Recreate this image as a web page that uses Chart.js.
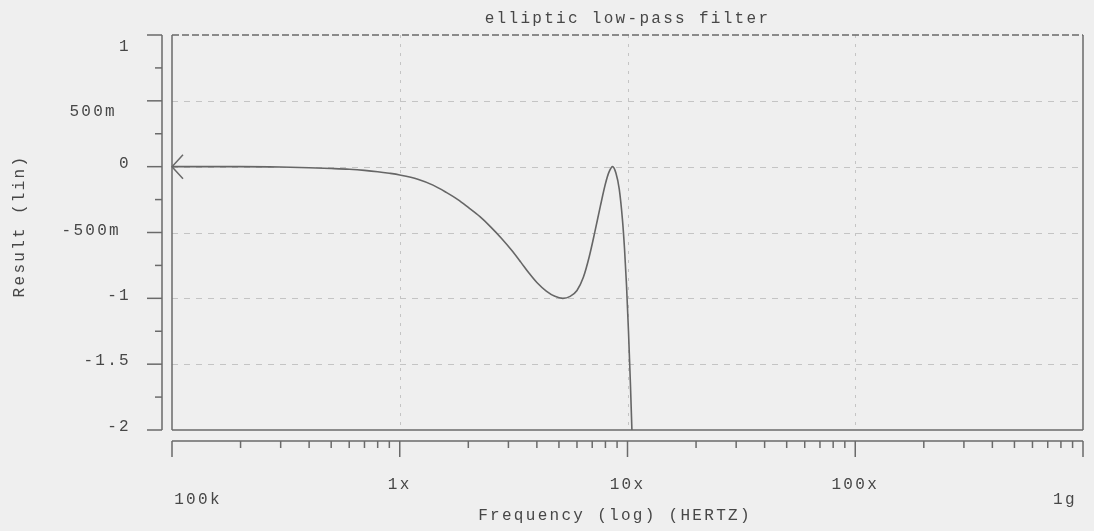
<!DOCTYPE html>
<html>
<head>
<meta charset="utf-8">
<script src="https://cdn.jsdelivr.net/npm/chart.js@4"></script>
<style>
    html, body { margin: 0; padding: 0; background: #efefef; }
    #wrap { width: 1094px; height: 531px; }
</style>
</head>
<body>
<div id="wrap"><canvas id="plot"></canvas></div>
<script>
// values
const freqHz = [1e5, 2e5, 3e5, 4e5, 5e5, 6e5, 7e5, 8e5, 9e5, 1.0e6, 1.2e6, 1.4e6, 1.6e6, 1.8e6, 2.0e6,
    2.25e6, 2.5e6, 2.8e6, 3.1e6, 3.4e6, 3.7e6, 4.0e6, 4.4e6, 4.8e6, 5.2e6, 5.6e6, 6.0e6, 6.4e6,
    6.8e6, 7.2e6, 7.6e6, 8.0e6, 8.3e6, 8.6e6, 8.9e6, 9.2e6, 9.5e6, 9.7e6, 9.9e6, 10.1e6, 10.3e6, 10.5e6];
const result = [0, 0, -0.003, -0.008, -0.014, -0.02, -0.028, -0.038, -0.05, -0.063, -0.095, -0.14,
    -0.195, -0.25, -0.31, -0.38, -0.455, -0.545, -0.635, -0.725, -0.81, -0.88, -0.945, -0.985, -1.0,
    -0.985, -0.94, -0.84, -0.68, -0.49, -0.3, -0.13, -0.04, 0, -0.05, -0.17, -0.4, -0.62, -0.9,
    -1.25, -1.65, -2.1];

const yTickValues = [1, 0.5, 0, -0.5, -1, -1.5, -2];
const yTickLabels = ["1", "500m", "0", "-500m", "-1", "-1.5", "-2"];
const xTickValues = [1e5, 1e6, 1e7, 1e8, 1e9];
const xTickLabels = ["100k", "1x", "10x", "100x", "1g"];

const TITLE = "elliptic low-pass filter";
const X_TITLE = "Frequency (log) (HERTZ)";
const Y_TITLE = "Result (lin)";

const INK = "#474747";
const FRAME = "#6a6a6a";
const GRID = "#c4c4c4";
const FONT = "16px 'Liberation Mono', monospace";

function setFont(ctx) {
    ctx.font = FONT;
    ctx.letterSpacing = "2.3px";
    ctx.fillStyle = INK;
}

function line(ctx, x1, y1, x2, y2) {
    ctx.beginPath();
    ctx.moveTo(x1, y1);
    ctx.lineTo(x2, y2);
    ctx.stroke();
}

const frame = {
    id: "frame",
    beforeDraw(chart) {
        const { ctx, width, height } = chart;
        ctx.save();
        ctx.fillStyle = "#efefef";
        ctx.fillRect(0, 0, width, height);
        ctx.restore();
    },
    beforeDatasetsDraw(chart) {
        const { ctx, chartArea: a, scales } = chart;
        const xs = scales.x, ys = scales.y;
        ctx.save();

        // grid
        ctx.strokeStyle = GRID;
        ctx.lineWidth = 1;
        ctx.setLineDash([6, 6]);
        yTickValues.slice(1, -1).forEach((v) => {
            const y = Math.round(ys.getPixelForValue(v)) + 0.5;
            line(ctx, a.left, y, a.right, y);
        });
        ctx.setLineDash([3, 6]);
        xTickValues.slice(1, -1).forEach((v) => {
            const x = Math.round(xs.getPixelForValue(v)) + 0.5;
            line(ctx, x, a.top, x, a.bottom);
        });

        // plot box: dashed top, solid others
        ctx.strokeStyle = FRAME;
        ctx.lineWidth = 1.5;
        ctx.setLineDash([7, 3]);
        line(ctx, a.left, a.top, a.right, a.top);
        ctx.setLineDash([]);
        line(ctx, a.left, a.top, a.left, a.bottom);
        line(ctx, a.left, a.bottom, a.right, a.bottom);
        line(ctx, a.right, a.top, a.right, a.bottom);

        // detached y axis
        const ax = a.left - 10;
        line(ctx, ax, a.top, ax, a.bottom);
        yTickValues.forEach((v, i) => {
            const y = ys.getPixelForValue(v);
            line(ctx, ax - 15, y, ax, y);
            if (i < yTickValues.length - 1) {
                const ym = ys.getPixelForValue((v + yTickValues[i + 1]) / 2);
                line(ctx, ax - 7, ym, ax, ym);
            }
        });

        // detached x axis
        const ay = a.bottom + 11;
        line(ctx, a.left, ay, a.right, ay);
        xTickValues.forEach((v, i) => {
            const x = xs.getPixelForValue(v);
            line(ctx, x, ay, x, ay + 16);
            if (i < xTickValues.length - 1) {
                for (let m = 2; m <= 9; m++) {
                    const xm = xs.getPixelForValue(v * m);
                    line(ctx, xm, ay, xm, ay + 7);
                }
            }
        });

        // labels
        setFont(ctx);
        ctx.textBaseline = "middle";
        ctx.textAlign = "right";
        const nudge = { "1": [0, 12], "500m": [-14, 11], "-500m": [-10, -2] };
        yTickValues.forEach((v, i) => {
            const [dx, dy] = nudge[yTickLabels[i]] || [0, -3];
            ctx.fillText(yTickLabels[i], 131 + dx, ys.getPixelForValue(v) + dy);
        });

        ctx.textAlign = "center";
        xTickValues.forEach((v, i) => {
            let x = xs.getPixelForValue(v);
            let y = 485;
            if (i === 0) { x += 26; y = 500; }
            if (i === xTickValues.length - 1) { x -= 18; y = 500; }
            ctx.fillText(xTickLabels[i], x, y);
        });

        ctx.fillText(TITLE, (a.left + a.right) / 2, 19);
        ctx.fillText(X_TITLE, 615, 516);

        ctx.translate(20, 226);
        ctx.rotate(-Math.PI / 2);
        ctx.fillText(Y_TITLE, 0, 0);
        ctx.restore();
    },
    afterDatasetsDraw(chart) {
        // "<" marker on the first sample
        const p = chart.getDatasetMeta(0).data[0];
        const { ctx } = chart;
        ctx.save();
        ctx.strokeStyle = FRAME;
        ctx.lineWidth = 1.5;
        ctx.beginPath();
        ctx.moveTo(p.x + 11, p.y - 12);
        ctx.lineTo(p.x, p.y);
        ctx.lineTo(p.x + 11, p.y + 12);
        ctx.stroke();
        ctx.restore();
    },
};

new Chart(document.getElementById("plot"), {
    type: "line",
    data: {
        datasets: [
            {
                data: freqHz.map((f, i) => ({ x: f, y: result[i] })),
                borderColor: "#666",
                borderWidth: 1.6,
                pointRadius: 0,
                cubicInterpolationMode: "monotone",
                fill: false,
            },
        ],
    },
    options: {
        responsive: true,
        maintainAspectRatio: false,
        animation: false,
        layout: { padding: { left: 172, right: 11, top: 35, bottom: 101 } },
        plugins: { legend: { display: false }, tooltip: { enabled: false } },
        scales: {
            x: { type: "logarithmic", min: 1e5, max: 1e9, display: false },
            y: { type: "linear", min: -2, max: 1, display: false },
        },
    },
    plugins: [frame],
});
</script>
</body>
</html>
